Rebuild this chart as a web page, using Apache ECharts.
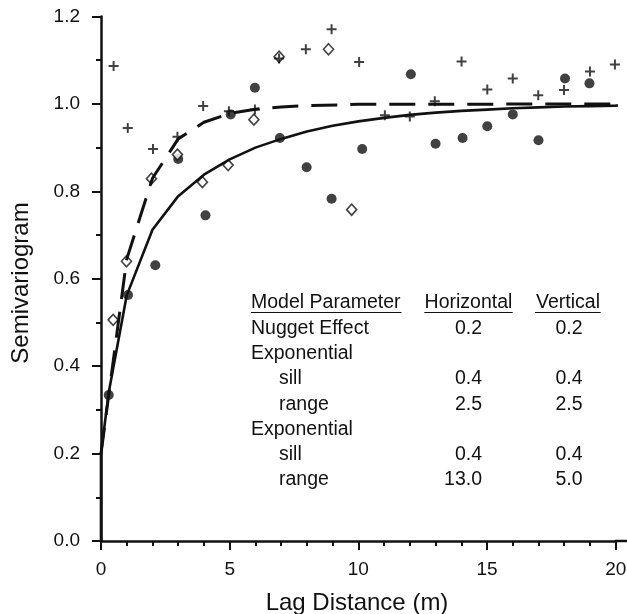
<!DOCTYPE html>
<html><head><meta charset="utf-8">
<script src="https://cdn.jsdelivr.net/npm/echarts@6/dist/echarts.min.js"></script>
<style>html,body{margin:0;padding:0;background:#fff}#c{width:627px;height:614px}</style>
</head><body><div id="c"></div>
<script>
// ---- data ----
const circleData = [[0.30,0.334],[1.05,0.563],[2.11,0.631],[3.00,0.874],[4.06,0.745],[5.04,0.976],[5.98,1.037],[6.95,0.922],[7.99,0.855],[8.96,0.783],[10.15,0.897],[12.04,1.068],[13.00,0.909],[14.05,0.922],[15.01,0.949],[16.00,0.976],[17.00,0.917],[18.03,1.058],[18.98,1.047]];
const diamondData = [[0.47,0.506],[0.99,0.640],[1.96,0.829],[2.97,0.884],[3.94,0.821],[4.94,0.860],[5.94,0.964],[6.92,1.108],[8.84,1.125],[9.74,0.758]];
const plusData = [[0.49,1.087],[1.04,0.945],[2.02,0.897],[2.97,0.925],[3.97,0.995],[4.97,0.983],[5.98,0.987],[6.92,1.104],[7.96,1.125],[8.96,1.171],[10.03,1.096],[11.03,0.974],[12.00,0.971],[12.97,1.006],[14.01,1.097],[15.01,1.033],[16.00,1.058],[16.99,1.020],[17.99,1.032],[19.00,1.074],[19.97,1.090]];
const solidCurve = [[0,0],[0,0.2],[0.3,0.34],[1,0.562],[2,0.712],[3,0.789],[4,0.838],[5,0.873],[6,0.900],[7,0.920],[8,0.937],[9,0.950],[10,0.960],[11,0.968],[12,0.975],[13,0.980],[14,0.984],[15,0.987],[16,0.990],[17,0.992],[18,0.994],[19,0.995],[20,0.996],[20.4,0.997]];
const dashedCurve = [[0,0.2],[1,0.645],[2,0.83],[3,0.92],[4,0.958],[5,0.978],[6,0.988],[7,0.993],[8,0.996],[10,0.999],[20.4,1.0]];
const xTitle = 'Lag Distance (m)';
const yTitle = 'Semivariogram';
const tableHeader = ['Model Parameter','Horizontal','Vertical'];
const tableLabels = ['Nugget Effect','Exponential','sill','range','Exponential','sill','range'];
const tableHorizontal = ['0.2','','0.4','2.5','','0.4','13.0'];
const tableVertical = ['0.2','','0.4','2.5','','0.4','5.0'];

// ---- chart ----
const FONT = '"Liberation Sans", Arial, Helvetica, sans-serif';
const INK = '#111';
const chart = echarts.init(document.getElementById('c'));

const GRID = {left: 101, right: 11.3, top: 16.5, bottom: 73};
const W = 627, H = 614;

const graphics = [];
const txt = (text, x, y, align) => graphics.push({type:'text', x, y, silent:true,
  style:{text, fill:INK, font:'19.5px ' + FONT, align, verticalAlign:'middle'}});
const uline = (x1, x2, y) => graphics.push({type:'line', silent:true,
  shape:{x1, y1:y, x2, y2:y}, style:{stroke:INK, lineWidth:1.2}});
const headerY = 303, rowStep = 25.3;
txt(tableHeader[0], 251, headerY, 'left');
txt(tableHeader[1], 468.5, headerY, 'center');
txt(tableHeader[2], 568, headerY, 'center');
uline(251, 401.5, 312.5); uline(424.3, 512.7, 312.5); uline(535, 600.7, 312.5);
tableLabels.forEach((lab, i) => {
  const y = headerY + rowStep * (i + 1);
  const indent = (lab === 'sill' || lab === 'range') ? 28 : 0;
  txt(lab, 251 + indent, y, 'left');
  if (tableHorizontal[i]) txt(tableHorizontal[i], 482, y, 'right');
  if (tableVertical[i]) txt(tableVertical[i], 582.5, y, 'right');
});
// axis titles
graphics.push({type:'text', x: 357, y: 603, silent:true,
  style:{text: xTitle, fill: INK, font: '24px ' + FONT, align: 'center', verticalAlign: 'middle'}});
graphics.push({type:'text', x: 21, y: 283, rotation: Math.PI / 2, silent:true,
  style:{text: yTitle, fill: INK, font: '24px ' + FONT, align: 'center', verticalAlign: 'middle'}});
// x axis line continues past the last tick to the figure edge
const axisY = H - GRID.bottom;
graphics.push({type:'line', silent:true, z:10,
  shape:{x1: W - GRID.right - 1, y1: axisY, x2: W, y2: axisY},
  style:{stroke: INK, lineWidth: 2.5}});

const tickStyle = {color: INK, width: 2};
chart.setOption({
  animation: false,
  backgroundColor: '#fff',
  grid: Object.assign({containLabel: false, outerBoundsMode: 'none'}, GRID),
  xAxis: [{
    type: 'value', min: 0, max: 20, interval: 5, position: 'bottom',
    axisLine: {show: true, onZero: false, lineStyle: {color: INK, width: 2.5}},
    axisTick: {show: true, length: 9, lineStyle: tickStyle},
    minorTick: {show: true, splitNumber: 5, length: 5, lineStyle: tickStyle},
    axisLabel: {fontFamily: FONT, fontSize: 19, color: INK, margin: 19},
    splitLine: {show: false}
  }, {
    // tick marks only
    type: 'value', min: 0, max: 20, interval: 5, position: 'bottom',
    axisLine: {show: false, onZero: false},
    axisTick: {show: true, length: 9, lineStyle: tickStyle},
    minorTick: {show: true, splitNumber: 5, length: 5, lineStyle: tickStyle},
    axisLabel: {show: false},
    splitLine: {show: false}
  }],
  yAxis: {
    type: 'value', min: 0, max: 1.2, interval: 0.2,
    axisLine: {show: true, onZero: false, lineStyle: {color: INK, width: 2.5}},
    axisTick: {show: true, length: 9, lineStyle: tickStyle},
    minorTick: {show: true, splitNumber: 2, length: 5, lineStyle: tickStyle},
    axisLabel: {fontFamily: FONT, fontSize: 19, color: INK, margin: 21,
      formatter: v => v.toFixed(1)},
    splitLine: {show: false}
  },
  series: [
    {type: 'line', data: solidCurve, showSymbol: false, symbol: 'none', silent: true, clip: false,
      lineStyle: {color: INK, width: 2.6}},
    {type: 'line', data: dashedCurve, showSymbol: false, symbol: 'none', silent: true, clip: false,
      lineStyle: {color: INK, width: 3, type: [26, 13]}},
    {type: 'scatter', data: circleData, symbol: 'circle', symbolSize: 10,
      itemStyle: {color: INK}},
    {type: 'scatter', data: diamondData, symbol: 'diamond', symbolSize: [10, 11],
      itemStyle: {color: '#fff', borderColor: INK, borderWidth: 1.6}},
    {type: 'scatter', data: plusData, symbol: 'path://M4,0H6V4H10V6H6V10H4V6H0V4H4Z', symbolSize: 10,
      itemStyle: {color: INK}}
  ],
  graphic: graphics
});
</script>
</body></html>
